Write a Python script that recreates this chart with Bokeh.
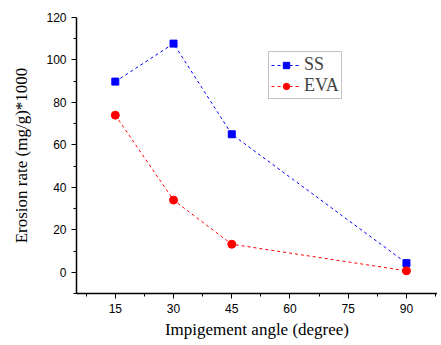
from bokeh.plotting import figure
from bokeh.models import Range1d, FixedTicker, Legend, LegendItem
from bokeh.embed import file_html
from bokeh.resources import INLINE

angles = [15, 30, 45, 90]
ss_values = [89.8, 107.7, 65.0, 4.3]
eva_values = [74.0, 34.0, 13.2, 0.7]
x_ticks = [15, 30, 45, 60, 75, 90]
x_minor = [7.5, 22.5, 37.5, 52.5, 67.5, 82.5, 97.5]
y_ticks = [0, 20, 40, 60, 80, 100, 120]
y_minor = [-10, 10, 30, 50, 70, 90, 110]

p = figure(width=437, height=341, output_backend="svg", toolbar_location=None,
           x_range=Range1d(5, 98), y_range=Range1d(-10, 120),
           min_border_left=76, min_border_right=0, min_border_top=17, min_border_bottom=40)
p.outline_line_color = None
p.xgrid.visible = False
p.ygrid.visible = False
p.background_fill_color = "white"

l1 = p.line(angles, ss_values, line_color="blue", line_dash="3 3", line_width=1)
s1 = p.scatter(angles, ss_values, marker="square", size=7, fill_color="blue", line_color="blue")
l2 = p.line(angles, eva_values, line_color="red", line_dash="3 3", line_width=1)
s2 = p.scatter(angles, eva_values, marker="circle", size=8, fill_color="red", line_color="red")

for ax in (p.xaxis[0], p.yaxis[0]):
    ax.axis_line_color = "black"
    ax.axis_line_width = 1.5
    ax.major_tick_in = 0
    ax.major_tick_out = 5
    ax.minor_tick_in = 0
    ax.minor_tick_out = 3
    ax.major_label_text_font = "Liberation Sans"
    ax.major_label_text_font_size = "12px"
    ax.major_label_text_color = "black"
    ax.axis_label_text_font = "Liberation Serif"
    ax.axis_label_text_font_size = "17px"
    ax.axis_label_text_font_style = "normal"
    ax.axis_label_text_color = "black"

p.xaxis[0].ticker = FixedTicker(ticks=x_ticks, minor_ticks=x_minor)
p.yaxis[0].ticker = FixedTicker(ticks=y_ticks, minor_ticks=y_minor)
p.xaxis[0].axis_label = "Impigement angle (degree)"
p.yaxis[0].axis_label = "Erosion rate (mg/g)*1000"
p.xaxis[0].axis_label_standoff = 4
p.yaxis[0].axis_label_standoff = 12

legend = Legend(items=[LegendItem(label="SS", renderers=[l1, s1]),
                       LegendItem(label="EVA", renderers=[l2, s2])],
                location=(192, 194))
legend.label_text_font = "Liberation Serif"
legend.label_text_font_size = "18px"
legend.border_line_color = "#888888"
legend.border_line_width = 1
legend.padding = 2
legend.spacing = 0
legend.glyph_width = 30
legend.glyph_height = 16
legend.label_standoff = 3
legend.margin = 0
p.add_layout(legend, "center")

open("out.html", "w").write(file_html(p, INLINE))
